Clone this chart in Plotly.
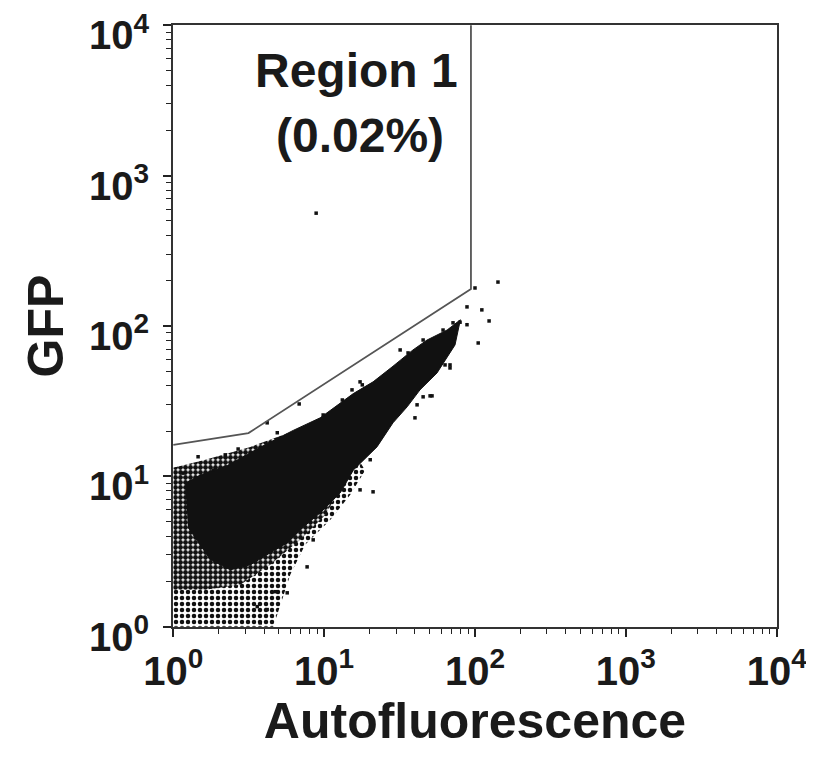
import plotly.graph_objects as go

# ---- gate (Region 1) outline, data units ----
gate_x = [1.0, 3.15, 94.0, 94.0]
gate_y = [16.2, 19.4, 176.0, 10000.0]

# ---- dense core of the population (outline) ----
core_x = [1.2, 1.51, 2.28, 3.77, 6.23, 9.41, 15.6, 21.1, 28.6, 38.8, 48.1,
          65.3, 80.0, 73.7, 56.0, 43.2, 35.5, 28.6, 22.4, 15.6, 12.8, 9.41,
          6.93, 5.69, 4.39, 3.24, 2.39, 1.76, 1.25]
core_y = [9.0, 10.2, 11.8, 15.6, 20.2, 24.5, 35.5, 42.5, 54.0, 69.3, 80.7,
          94.0, 110.0, 74.8, 48.7, 37.6, 29.0, 22.7, 15.7, 11.0, 7.77, 5.72,
          4.41, 3.61, 3.10, 2.58, 2.39, 2.79, 4.6]

# ---- denser speckled band around the core (lower-left) ----
inner_x = [1.0, 1.63, 3.24, 5.96, 11.0, 13.8, 10.2, 6.93, 4.39, 2.78, 1.63,
           1.0]
inner_y = [11.4, 12.9, 15.7, 19.5, 24.5, 9.48, 5.55, 3.78, 2.58, 1.90, 1.76,
           1.76]

# ---- sparser halo of events (lower-left) ----
halo_x = [1.0, 1.63, 2.78, 4.39, 6.93, 11.0, 18.7, 14.9, 11.0, 7.48, 5.96,
          5.11, 4.6, 1.0]
halo_y = [11.4, 12.7, 14.6, 16.7, 20.4, 25.6, 11.0, 7.54, 5.14, 3.51, 2.22,
          1.40, 1.0, 1.0]

# ---- individual scattered events ----
pts_x = [142, 100, 88.5, 111, 124, 105, 88.5, 79.6, 71.5, 61.4, 68.3, 63.3,
         50.4, 41.3, 40.0, 31.9, 36.0, 45.3, 17.3, 17.9, 15.3, 13.2, 6.83,
         9.85, 4.89, 4.19, 2.69, 1.46, 2.21, 1.84, 1.16, 17.3, 21.1, 20.2,
         8.46, 7.71, 5.69, 4.74, 3.77, 3.60, 4.19, 51.9, 68.3, 45.3]
pts_y = [196, 179, 134, 128, 108, 77.1, 102, 106, 105, 94.0, 55.1, 55.1,
         34.3, 29.9, 24.5, 69.3, 66.2, 80.7, 42.5, 40.6, 37.6, 32.2, 30.3,
         25.6, 19.5, 22.7, 15.2, 13.5, 13.9, 11.0, 10.5, 8.13, 7.89, 12.9,
         3.78, 2.50, 1.68, 1.71, 1.06, 1.36, 1.30, 34.3, 52.6, 33.8]

# event inside Region 1
gated_x = [8.85]
gated_y = [563]

tick_vals = [1, 10, 100, 1000, 10000]
tick_text = ["10<sup>0</sup>", "10<sup>1</sup>", "10<sup>2</sup>",
             "10<sup>3</sup>", "10<sup>4</sup>"]
minor_vals = [m * 10 ** d for d in range(4) for m in range(2, 10)]

FONT = "Liberation Sans, Arial, Helvetica"
INK = "#1a1a1a"

fig = go.Figure()

fig.add_trace(go.Scatter(
    x=halo_x, y=halo_y, mode="lines", fill="toself", line=dict(width=0),
    fillcolor="rgba(0,0,0,0)",
    fillpattern=dict(shape=".", fgcolor="#111", bgcolor="white", size=6,
                     solidity=0.45, fillmode="replace"),
    hoverinfo="skip", showlegend=False))

fig.add_trace(go.Scatter(
    x=inner_x, y=inner_y, mode="lines", fill="toself", line=dict(width=0),
    fillcolor="rgba(0,0,0,0)",
    fillpattern=dict(shape=".", fgcolor="#111", bgcolor="white", size=5,
                     solidity=0.75, fillmode="replace"),
    hoverinfo="skip", showlegend=False))

fig.add_trace(go.Scatter(
    x=core_x, y=core_y, mode="lines", fill="toself",
    line=dict(width=1, color="#111"), fillcolor="#111",
    hoverinfo="skip", showlegend=False))

fig.add_trace(go.Scatter(
    x=pts_x + gated_x, y=pts_y + gated_y, mode="markers",
    marker=dict(symbol="square", size=3.5, color="#111", line=dict(width=0)),
    showlegend=False))

fig.add_trace(go.Scatter(
    x=gate_x, y=gate_y, mode="lines",
    line=dict(color="#555", width=1.8), showlegend=False))

axis_common = dict(
    type="log", range=[-0.002, 4.002], tickvals=tick_vals, ticktext=tick_text,
    ticks="outside", ticklen=8, tickwidth=1.5, tickcolor="#222",
    showline=True, linecolor="#333", linewidth=2, mirror=True,
    showgrid=False, zeroline=False, automargin=False,
    ticklabeloverflow="allow",
    tickfont=dict(family=FONT, size=40, color=INK, weight="bold"),
    minor=dict(tickvals=minor_vals, ticks="outside", ticklen=5,
               tickwidth=1.2, tickcolor="#222", showgrid=False),
)

fig.update_xaxes(**axis_common,
                 title=dict(text="Autofluorescence", standoff=0,
                            font=dict(family=FONT, size=50, color=INK,
                                      weight="bold")))
fig.update_yaxes(**axis_common, ticklabelstandoff=6, ticklabelshift=10,
                 title=dict(text="GFP", standoff=9,
                            font=dict(family=FONT, size=50, color=INK,
                                      weight="bold")))

fig.add_annotation(text="Region 1", xref="paper", yref="paper", x=0.303,
                   y=0.925, xanchor="center", yanchor="middle",
                   showarrow=False,
                   font=dict(family=FONT, size=48, color=INK, weight="bold"))
fig.add_annotation(text="(0.02%)", xref="paper", yref="paper", x=0.31,
                   y=0.817, xanchor="center", yanchor="middle",
                   showarrow=False,
                   font=dict(family=FONT, size=48, color=INK, weight="bold"))

fig.update_layout(
    width=806, height=758,
    margin=dict(l=165, r=37, t=17, b=139),
    plot_bgcolor="white", paper_bgcolor="white",
    font=dict(family=FONT),
)

fig.write_html("out.html")
